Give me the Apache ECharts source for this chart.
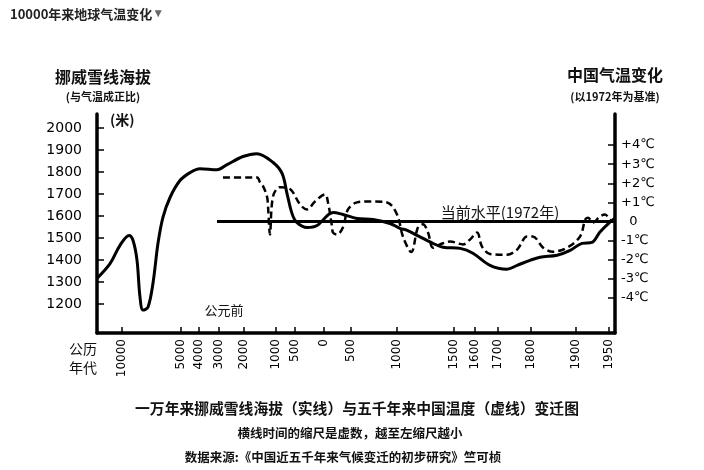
<!DOCTYPE html>
<html>
<head>
<meta charset="utf-8">
<script src="https://cdn.jsdelivr.net/npm/echarts@6/dist/echarts.min.js"></script>
<style>
html, body { margin: 0; padding: 0; background: #fff; }
#con { width: 704px; height: 470px; }
</style>
</head>
<body>
<div id="con"></div>
<script>
// time scale is not linear: each tick year sits at its own place on the axis
var tickYears = [-10000, -5000, -4000, -3000, -2000, -1000, -500, 0, 500, 1000, 1500, 1600, 1700, 1800, 1900, 1950];
var tickPos = [25, 84, 102, 122, 147, 179, 198, 227, 254, 300, 357, 378, 401, 434, 479, 512];
var tickLabels = ['10000', '5000', '4000', '3000', '2000', '1000', '500', '0', '500', '1000', '1500', '1600', '1700', '1800', '1900', '1950'];
var axisEnd = 518;

// Norway snow line (m), solid
var snowYears = [-12100, -11000, -10170, -9400, -9070, -8730, -8475, -8220, -7800, -7375, -6950, -6530, -5930, -5085, -4500, -3950, -3100, -2680, -2040, -1600, -1090, -840, -710, -580, -470, -290, -120, 170, 350, 565, 740, 925, 1025, 1090, 1175, 1315, 1405, 1530, 1590, 1665, 1727, 1758, 1797, 1820, 1858, 1887, 1909, 1924, 1936, 1951, 1959];
var snowHeight = [1318, 1385, 1467, 1512, 1490, 1400, 1232, 1173, 1186, 1295, 1476, 1594, 1684, 1761, 1797, 1815, 1810, 1833, 1870, 1883, 1843, 1793, 1702, 1612, 1571, 1548, 1557, 1616, 1607, 1589, 1584, 1566, 1544, 1535, 1512, 1476, 1458, 1453, 1431, 1376, 1358, 1376, 1399, 1413, 1422, 1444, 1476, 1480, 1526, 1571, 1590];

// China temperature vs 1972 (°C), dashed
var tempYears = [-2840, -1900, -1590, -1500, -1406, -1281, -1250, -1188, -1094, -895, -632, -414, -293, -155, 20, 74, 148, 167, 241, 352, 444, 565, 707, 891, 1000, 1053, 1125, 1184, 1228, 1272, 1316, 1377, 1465, 1543, 1576, 1609, 1630, 1665, 1727, 1758, 1788, 1804, 1827, 1849, 1880, 1906, 1914, 1918, 1926, 1936, 1944, 1951, 1956];
var tempValues = [2.3, 2.3, 2.3, 2.05, 1.85, 1.3, 0.8, -0.68, 1.3, 1.8, 1.7, 0.9, 0.63, 1.05, 1.42, 1.0, -0.26, -0.58, -0.68, -0.3, 0.63, 1.0, 1.05, 1.0, 0.37, -0.8, -1.6, -0.3, -0.15, -0.58, -1.37, -1.2, -1.05, -1.2, -0.95, -0.58, -1.3, -1.7, -1.74, -1.47, -0.79, -0.79, -1.37, -1.58, -1.37, -0.79, 0.1, 0.2, -0.05, 0.26, 0.37, 0.1, 0];

var heightTicks = [1200, 1300, 1400, 1500, 1600, 1700, 1800, 1900, 2000];
var tempTicks = [4, 3, 2, 1, 0, -1, -2, -3, -4];
var tempLabels = ['+4℃', '+3℃', '+2℃', '+1℃', '  0', '-1℃', '-2℃', '-3℃', '-4℃'];
var baseStartYear = -3100;

function toPos(y) {
    var n = tickYears.length, i = 0;
    if (y >= tickYears[n - 1]) i = n - 2;
    else if (y > tickYears[0]) { while (y > tickYears[i + 1]) i++; }
    var t = (y - tickYears[i]) / (tickYears[i + 1] - tickYears[i]);
    return tickPos[i] + t * (tickPos[i + 1] - tickPos[i]);
}

var snowData = [];
for (var i = 0; i < snowYears.length; i++) snowData.push([toPos(snowYears[i]), snowHeight[i]]);
var tempData = [];
for (var i = 0; i < tempYears.length; i++) tempData.push([toPos(tempYears[i]), tempValues[i]]);

var font = '"Noto Sans CJK SC", "Noto Sans", sans-serif';
// x, y = anchor point (y is the text middle)
function txt(x, y, s, size, weight, align) {
    return {
        type: 'text', x: x, y: y,
        style: {
            text: s, fontSize: size, fontWeight: weight || 'bold', fontFamily: font, fill: '#111',
            align: align || 'left', verticalAlign: 'middle'
        }
    };
}

var myChart = echarts.init(document.getElementById('con'));
var option = {
    animation: false,
    grid: { left: 97, right: 89, top: 114, bottom: 137 },
    xAxis: {
        type: 'value', min: 0, max: axisEnd,
        splitLine: { show: false },
        axisLine: { onZero: false, lineStyle: { color: '#000', width: 3.5 } },
        axisTick: { customValues: tickPos, inside: true, length: 6, lineStyle: { color: '#000', width: 1.5 } },
        axisLabel: {
            customValues: tickPos, rotate: 90, margin: 6, fontSize: 12, color: '#000', fontFamily: 'DejaVu Sans',
            formatter: function (v) {
                for (var k = 0; k < tickPos.length; k++) if (Math.abs(tickPos[k] - v) < 0.01) return tickLabels[k];
                return '';
            }
        }
    },
    yAxis: [
        {
            type: 'value', min: 1069, max: 2063, position: 'left',
            splitLine: { show: false },
            axisLine: { show: true, lineStyle: { color: '#000', width: 3.5 } },
            axisTick: { customValues: heightTicks, inside: true, length: 7, lineStyle: { color: '#000', width: 1.5 } },
            axisLabel: {
                customValues: heightTicks, margin: 15, fontSize: 14, color: '#000', fontFamily: 'DejaVu Sans',
                formatter: function (v) { return String(Math.round(v)); }
            }
        },
        {
            type: 'value', min: -5.84, max: 5.63, position: 'right',
            splitLine: { show: false },
            axisLine: { show: true, lineStyle: { color: '#000', width: 3.5 } },
            axisTick: { customValues: tempTicks, inside: true, length: 7, lineStyle: { color: '#000', width: 1.5 } },
            axisLabel: {
                customValues: tempTicks, margin: 6, fontSize: 13, color: '#000', fontFamily: 'DejaVu Sans', align: 'left',
                formatter: function (v) {
                    var k = tempTicks.indexOf(Math.round(v));
                    return k >= 0 ? tempLabels[k] : '';
                }
            }
        }
    ],
    series: [
        {
            type: 'line', yAxisIndex: 0, data: snowData, smooth: 0.35, showSymbol: false, silent: true,
            lineStyle: { color: '#000', width: 3 }
        },
        {
            type: 'line', yAxisIndex: 1, data: tempData, smooth: 0.35, showSymbol: false, silent: true,
            lineStyle: { color: '#000', width: 2.5, type: [7, 4] },
            markLine: {
                silent: true, symbol: 'none', label: { show: false },
                lineStyle: { color: '#000', width: 3, type: 'solid' },
                data: [[{ coord: [toPos(baseStartYear), 0] }, { coord: [axisEnd, 0] }]]
            }
        }
    ],
    graphic: [
        {
            type: 'text', x: 10, y: 14,
            style: {
                text: '10000年来地球气温变化{a|▼}', fontSize: 13, fontWeight: 'bold', fontFamily: font, fill: '#222',
                verticalAlign: 'middle', rich: { a: { fontSize: 12, fill: '#666' } }
            }
        },
        txt(103, 77, '挪威雪线海拔', 16, 'bold', 'center'),
        txt(103, 97, '(与气温成正比)', 11, 'bold', 'center'),
        txt(110, 120, '(米)', 14),
        txt(615, 75, '中国气温变化', 16, 'bold', 'center'),
        txt(615, 97, '(以1972年为基准)', 11, 'bold', 'center'),
        txt(224, 310, '公元前', 13, 'normal', 'center'),
        txt(500, 212, '当前水平(1972年)', 15, 'normal', 'center'),
        txt(83, 349, '公历', 14, 'normal', 'center'),
        txt(83, 368, '年代', 14, 'normal', 'center'),
        txt(357, 408, '一万年来挪威雪线海拔（实线）与五千年来中国温度（虚线）变迁图', 14.8, 'bold', 'center'),
        txt(350, 433, '横线时间的缩尺是虚数，越至左缩尺越小', 12.5, 'bold', 'center'),
        txt(343, 457, '数据来源:《中国近五千年来气候变迁的初步研究》竺可桢', 12.5, 'bold', 'center')
    ]
};
myChart.setOption(option);
</script>
</body>
</html>
